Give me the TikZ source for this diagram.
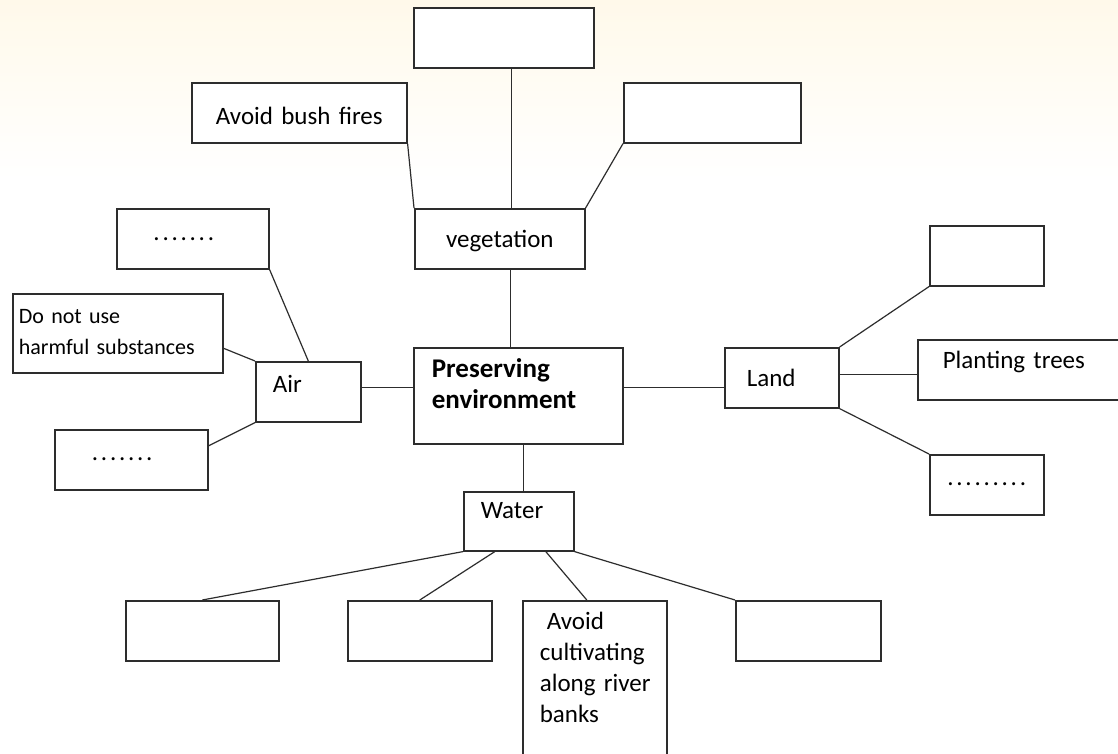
\documentclass[tikz,border=0pt]{standalone}
\usepackage{fontspec}
\setmainfont{Carlito}
\newfontfamily\dotfont[LetterSpace=11]{Carlito}
\usepackage{xcolor}
\usepackage{tikz}

\definecolor{cream}{RGB}{255,249,234}
\definecolor{edge}{RGB}{45,45,45}

\tikzset{
    box/.style={draw=edge, line width=1.6pt, fill=white, anchor=north west,
        inner xsep=0pt, inner ysep=0pt, align=center,
        font=\fontsize{25}{31}\selectfont},
    leftbox/.style={box, align=left},
    dotbox/.style={box, font=\fontsize{25}{31}\dotfont},
    link/.style={draw=edge, line width=1.2pt},
}

\begin{document}
\begin{tikzpicture}[x=1pt, y=-1pt]
    \useasboundingbox (0,0) rectangle (1118,754);
    \clip (0,0) rectangle (1118,754);
    % Background
    \fill[white] (0,0) rectangle (1118,754);
    \shade[top color=cream, bottom color=white] (0,0) rectangle (1118,180);

    % Vegetation branch
    \node[box, text width=180pt, text height=30pt, text depth=30pt] (vegtop) at (413,7) {};
    \node[box, text width=215pt, text height=42pt, text depth=18pt] (bush) at (191,82) {Avoid bush fires};
    \node[box, text width=177pt, text height=30pt, text depth=30pt] (vegright) at (623,82) {};
    \node[box, text width=170pt, text height=39pt, text depth=21pt] (veg) at (414,208) {vegetation};

    % Air branch
    \node[dotbox, text width=152pt, text height=32pt, text depth=28pt] (airtop) at (116,208) {\hspace*{-18pt}.......};
    \node[leftbox, inner xsep=6pt, text width=198pt, text height=30pt, text depth=49pt,
        font=\fontsize{22}{31}\selectfont] (harm) at (12,293) {Do not use\\harmful substances};
    \node[leftbox, inner xsep=17pt, text width=71pt, text height=31pt, text depth=29pt] (air) at (255,361) {Air};
    \node[dotbox, text width=153pt, text height=31pt, text depth=29pt] (airbot) at (54,429) {\hspace*{-18pt}.......};

    % Centre
    \node[leftbox, inner xsep=18pt, text width=173pt, text height=30pt, text depth=66pt,
        font=\fontsize{27}{31}\selectfont\bfseries] (pres) at (413,347) {Preserving\\environment};

    % Land branch
    \node[leftbox, inner xsep=22pt, text width=70pt, text height=39pt, text depth=21pt] (land) at (724,347) {Land};
    \node[box, text width=114pt, text height=30pt, text depth=30pt] (landtop) at (929,225) {};
    \node[leftbox, inner xsep=25pt, text width=160pt, text height=29pt, text depth=31pt] (plant) at (917,339) {Planting trees};
    \node[dotbox, text width=114pt, text height=31pt, text depth=29pt] (landbot) at (929,454) {.........};

    % Water branch
    \node[leftbox, inner xsep=17pt, text width=76pt, text height=27pt, text depth=32pt] (water) at (463,491) {Water};
    \node[box, text width=153pt, text height=30pt, text depth=30pt] (wa) at (125,600) {};
    \node[box, text width=144pt, text height=30pt, text depth=30pt] (wb) at (347,600) {};
    \node[leftbox, inner xsep=13pt, text width=118pt, text height=29pt, text depth=150pt] (wc) at (522,600)
        {\hspace*{11pt}Avoid\\\hspace*{4pt}cultivating\\\hspace*{4pt}along river\\\hspace*{4pt}banks};
    \node[box, text width=145pt, text height=30pt, text depth=30pt] (wd) at (735,600) {};

    % Connectors
    \draw[link] ([xshift=8pt]vegtop.south) -- ([xshift=8pt]vegtop.south |- veg.north);
    \draw[link] (bush.south east) -- (veg.north west);
    \draw[link] (vegright.south west) -- (veg.north east);
    \draw[link] ([xshift=11pt]veg.south) -- ([xshift=11pt]veg.south |- pres.north);

    \draw[link] (airtop.south east) -- (air.north);
    \draw[link] ([yshift=-15pt]harm.east) -- (air.north west);
    \draw[link] ([yshift=14pt]airbot.east) -- (air.south west);
    \draw[link] ([yshift=8pt]pres.west) -- ([yshift=8pt]pres.west -| air.east);

    \draw[link] ([yshift=8pt]pres.east) -- ([yshift=8pt]pres.east -| land.west);
    \draw[link] (land.north east) -- (landtop.south west);
    \draw[link] ([yshift=3pt]land.east) -- ([yshift=3pt]land.east -| plant.west);
    \draw[link] (land.south east) -- (landbot.north west);

    \draw[link] ([xshift=5pt]pres.south) -- ([xshift=5pt]pres.south |- water.north);
    \draw[link] (water.south west) -- (wa.north);
    \draw[link] ([xshift=-24pt]water.south) -- (wb.north);
    \draw[link] ([xshift=27pt]water.south) -- ([xshift=-8pt]wc.north);
    \draw[link] (water.south east) -- (wd.north west);
\end{tikzpicture}
\end{document}
